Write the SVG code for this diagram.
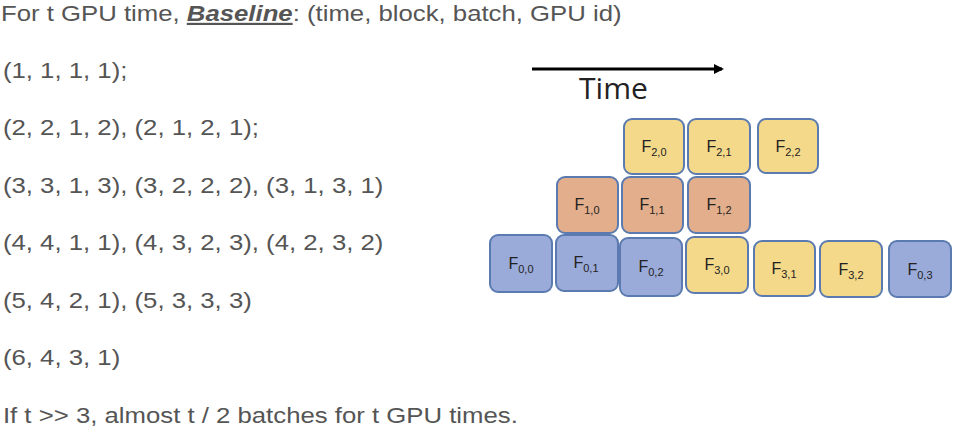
<svg xmlns="http://www.w3.org/2000/svg" width="957" height="426" viewBox="0 0 957 426">
<style>
.t{font-family:"Liberation Sans",Arial,sans-serif;font-size:22px;fill:#555}
.b{stroke:#5B7BB0;stroke-width:2}
.y{fill:#F4D98A}
.o{fill:#E2AE8B}
.u{fill:#9BABD9}
.l{font-family:"Liberation Sans",Arial,sans-serif;font-size:16px;fill:#222;text-anchor:middle}
.s{font-size:11px}
</style>
<defs>
<marker id="ah" markerWidth="10" markerHeight="10" refX="8" refY="5" orient="auto" markerUnits="userSpaceOnUse">
<path d="M0,0 L10,5 L0,10 z" fill="#000"/>
</marker>
</defs>
<g id="text" transform="scale(1.17,1)">
<text class="t" x="0.8" y="21">For t GPU time, <tspan font-weight="bold" font-style="italic" text-decoration="underline">Baseline</tspan>: (time, block, batch, GPU id)</text>
<text class="t" x="2.5" y="78">(1, 1, 1, 1);</text>
<text class="t" x="2.5" y="135.5">(2, 2, 1, 2), (2, 1, 2, 1);</text>
<text class="t" x="2.5" y="193">(3, 3, 1, 3), (3, 2, 2, 2), (3, 1, 3, 1)</text>
<text class="t" x="2.5" y="250.5">(4, 4, 1, 1), (4, 3, 2, 3), (4, 2, 3, 2)</text>
<text class="t" x="2.5" y="308">(5, 4, 2, 1), (5, 3, 3, 3)</text>
<text class="t" x="2.5" y="365.5">(6, 4, 3, 1)</text>
<text class="t" x="2.5" y="423">If t &gt;&gt; 3, almost t / 2 batches for t GPU times.</text>
</g>
<g id="connectors">
<line x1="532" y1="69" x2="722" y2="69" stroke="#000" stroke-width="3" marker-end="url(#ah)"/>
<text x="613.5" y="99" font-family="'Open Sans','Liberation Sans',sans-serif" font-size="29" fill="#222" text-anchor="middle" textLength="69" lengthAdjust="spacingAndGlyphs">Time</text>
</g>
<g id="F20"><rect class="b y" x="624" y="119" width="60" height="55" rx="8"/><text class="l" x="654" y="152">F<tspan class="s" dy="4">2,0</tspan></text></g>
<g id="F21"><rect class="b y" x="688" y="119" width="62" height="55" rx="8"/><text class="l" x="719" y="152">F<tspan class="s" dy="4">2,1</tspan></text></g>
<g id="F22"><rect class="b y" x="758" y="119" width="60" height="54" rx="8"/><text class="l" x="788" y="152">F<tspan class="s" dy="4">2,2</tspan></text></g>
<g id="F10"><rect class="b o" x="557" y="177" width="61" height="56" rx="8"/><text class="l" x="587" y="210">F<tspan class="s" dy="4">1,0</tspan></text></g>
<g id="F11"><rect class="b o" x="622" y="177" width="61" height="56" rx="8"/><text class="l" x="652" y="210">F<tspan class="s" dy="4">1,1</tspan></text></g>
<g id="F12"><rect class="b o" x="688" y="177" width="62" height="56" rx="8"/><text class="l" x="719" y="210">F<tspan class="s" dy="4">1,2</tspan></text></g>
<g id="F00"><rect class="b u" x="490" y="235" width="62" height="57" rx="8"/><text class="l" x="521" y="269">F<tspan class="s" dy="4">0,0</tspan></text></g>
<g id="F01"><rect class="b u" x="556" y="235" width="62" height="56" rx="8"/><text class="l" x="586" y="268">F<tspan class="s" dy="4">0,1</tspan></text></g>
<g id="F02"><rect class="b u" x="620" y="238" width="62" height="58" rx="8"/><text class="l" x="651" y="272">F<tspan class="s" dy="4">0,2</tspan></text></g>
<g id="F30"><rect class="b y" x="686" y="237" width="62" height="56" rx="8"/><text class="l" x="717" y="270">F<tspan class="s" dy="4">3,0</tspan></text></g>
<g id="F31"><rect class="b y" x="754" y="241" width="61" height="55" rx="8"/><text class="l" x="784" y="274">F<tspan class="s" dy="4">3,1</tspan></text></g>
<g id="F32"><rect class="b y" x="820" y="241" width="62" height="56" rx="8"/><text class="l" x="851" y="275">F<tspan class="s" dy="4">3,2</tspan></text></g>
<g id="F03"><rect class="b u" x="889" y="241" width="62" height="56" rx="8"/><text class="l" x="920" y="275">F<tspan class="s" dy="4">0,3</tspan></text></g>
</svg>
